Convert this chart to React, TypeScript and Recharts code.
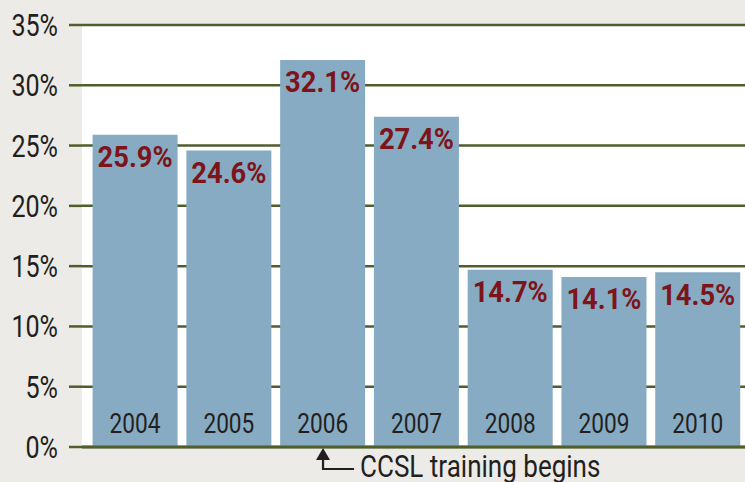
import React from "react";
import { BarChart, Bar, XAxis, YAxis, CartesianGrid, LabelList } from "recharts";

const years = ["2004", "2005", "2006", "2007", "2008", "2009", "2010"];
const rates = [25.9, 24.6, 32.1, 27.4, 14.7, 14.1, 14.5];
const yTicks = [0, 5, 10, 15, 20, 25, 30, 35];
const annotationYear = "2006";
const annotationText = "CCSL training begins";

const data = years.map((y, i) => ({ year: y, rate: rates[i] }));

const FONT = "Roboto, 'DejaVu Sans', sans-serif";
const GREEN = "#4f5f2c";
const INK = "#231f20";
const RED = "#7d1419";
const BAR = "#87abc3";
const BG = "#ecebe7";

const CondText = ({ x, y, sx, anchor, size, weight, fill, dy, children }: any) => (
  <text
    transform={`translate(${x},${y}) scale(${sx},1)`}
    x={0}
    y={0}
    dy={dy}
    textAnchor={anchor}
    fontFamily={FONT}
    fontSize={size}
    fontWeight={weight || "normal"}
    fill={fill}
  >
    {children}
  </text>
);

const YTick = (props: any) => {
  const { x, y, payload } = props;
  return (
    <CondText x={x} y={y} sx={0.81} anchor="end" size={31} fill={INK} dy="0.355em">
      {payload.value}%
    </CondText>
  );
};

const ValueLabel = (props: any) => {
  const { x, y, width, value } = props;
  return (
    <CondText x={x + width / 2} y={y + 32.5} sx={0.91} anchor="middle" size={30} weight="bold" fill={RED}>
      {value.toFixed(1)}%
    </CondText>
  );
};

const YearLabel = (props: any) => {
  const { x, y, width, height, value } = props;
  return (
    <CondText x={x + width / 2} y={y + height - 14} sx={0.84} anchor="middle" size={27} fill={INK}>
      {value}
    </CondText>
  );
};

const AnnotationTick = (props: any) => {
  const { x, y, payload } = props;
  if (payload.value !== annotationYear) return <g />;
  return (
    <g>
      <polygon points={`${x},${y + 1} ${x - 7},${y + 13} ${x + 7},${y + 13}`} fill={INK} />
      <polyline points={`${x},${y + 12} ${x},${y + 22} ${x + 31},${y + 22}`} fill="none" stroke={INK} strokeWidth={2.2} />
      <CondText x={x + 37} y={y + 30} sx={0.84} anchor="start" size={31} fill={INK}>
        {annotationText}
      </CondText>
    </g>
  );
};

export default function App() {
  return (
    <div style={{ position: "fixed", left: 0, top: 0, width: 745, height: 482, background: BG }}>
      <BarChart width={745} height={482} data={data} margin={{ top: 25, right: 0, bottom: 0, left: 0 }}>
        <CartesianGrid vertical={false} stroke={GREEN} strokeWidth={2.5} fill="#ffffff" fillOpacity={1} />
        <YAxis
          domain={[0, 35]}
          ticks={yTicks}
          width={82}
          axisLine={false}
          tickLine={{ stroke: GREEN, strokeWidth: 2.5 }}
          tickSize={13}
          tickMargin={11}
          tick={<YTick />}
        />
        <XAxis
          dataKey="year"
          height={35}
          padding={{ left: 6.6, right: 0 }}
          axisLine={{ stroke: GREEN, strokeWidth: 3 }}
          tickLine={false}
          tickSize={0}
          tickMargin={0}
          interval={0}
          tick={<AnnotationTick />}
        />
        <Bar dataKey="rate" fill={BAR} barSize={85} isAnimationActive={false}>
          <LabelList dataKey="rate" content={<ValueLabel />} />
          <LabelList dataKey="year" content={<YearLabel />} />
        </Bar>
      </BarChart>
    </div>
  );
}
